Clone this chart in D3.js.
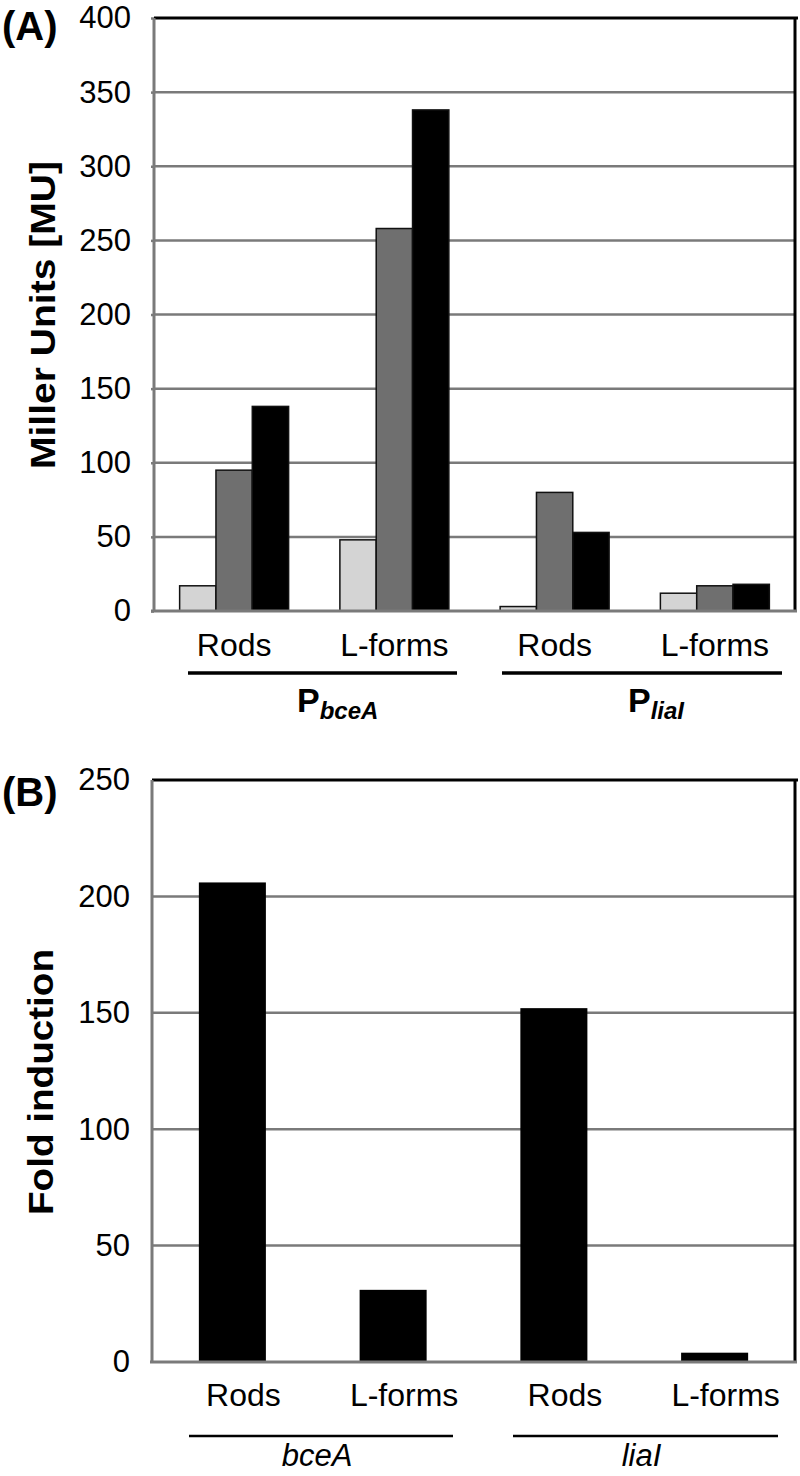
<!DOCTYPE html>
<html lang="en">
    <head>
        <meta charset="utf-8">
        <title>Miller units and fold induction</title>
        <script type="text/javascript" src="https://d3js.org/d3.v7.min.js"></script>
        <style>
            body { margin: 0; background: #fff; }
            text { font-family: "Liberation Sans", Arial, sans-serif; }
        </style>
    </head>
    <body>
        <script type="text/javascript">

        var w = 800;
        var h = 1476;

        // panel A: three conditions per category
        var categories = ["Rods", "L-forms", "Rods", "L-forms"];
        var seriesA = ["light", "mid", "dark"];
        var valuesLight = [17, 48, 3, 12];
        var valuesMid = [95, 258, 80, 17];
        var valuesDark = [138, 338, 53, 18];
        var ticksA = [0, 50, 100, 150, 200, 250, 300, 350, 400];

        // panel B: fold induction
        var foldValues = [206, 31, 152, 4];
        var ticksB = [0, 50, 100, 150, 200, 250];

        var fillA = {light: "#d4d4d4", mid: "#6f6f6f", dark: "#000000"};
        var gridColor = "#7a7a7a";

        var svg = d3.select("body")
            .append("svg")
            .attr("width", w)
            .attr("height", h);

        // ---------- panel A ----------
        var xA = d3.scaleBand()
            .domain(d3.range(categories.length))
            .range([154, 795])
            .paddingInner(0.32)
            .paddingOuter(0.16);

        var xSub = d3.scaleBand()
            .domain(seriesA)
            .range([0, xA.bandwidth()]);

        var yA = d3.scaleLinear()
            .domain([0, 400])
            .range([611, 18]);

        var gA = svg.append("g");

        gA.selectAll("line.grid")
           .data(ticksA.filter(function(d) { return d > 0 && d < 400; }))
           .enter()
           .append("line")
           .attr("class", "grid")
           .attr("x1", 154)
           .attr("x2", 795)
           .attr("y1", function(d) { return yA(d); })
           .attr("y2", function(d) { return yA(d); })
           .attr("stroke", gridColor)
           .attr("stroke-width", 2.5);

        // top and right frame
        gA.append("path")
           .attr("d", "M154," + yA(400) + "H798M795," + yA(400) + "V" + yA(0))
           .attr("fill", "none")
           .attr("stroke", "#000")
           .attr("stroke-width", 3);

        var rowsA = categories.map(function(c, i) {
            return {i: i, light: valuesLight[i], mid: valuesMid[i], dark: valuesDark[i]};
        });

        gA.selectAll("g.cat")
           .data(rowsA)
           .enter()
           .append("g")
           .attr("class", "cat")
           .attr("transform", function(d) { return "translate(" + xA(d.i) + ",0)"; })
           .selectAll("rect")
           .data(function(d) {
                return seriesA.map(function(s) { return {s: s, v: d[s]}; });
           })
           .enter()
           .append("rect")
           .attr("x", function(d) { return xSub(d.s); })
           .attr("width", xSub.bandwidth())
           .attr("y", function(d) { return yA(d.v); })
           .attr("height", function(d) { return yA(0) - yA(d.v); })
           .attr("fill", function(d) { return fillA[d.s]; })
           .attr("stroke", "#111")
           .attr("stroke-width", 1.5);

        var axA = gA.append("g")
           .attr("transform", "translate(154,0)")
           .call(d3.axisLeft(yA).tickValues(ticksA).tickSize(3).tickPadding(20));
        axA.select(".domain").attr("stroke", gridColor).attr("stroke-width", 3)
           .attr("d", "M0," + yA(400) + "V" + yA(0));
        axA.selectAll(".tick line").attr("stroke", gridColor).attr("stroke-width", 2.5);
        axA.selectAll(".tick text")
           .attr("font-size", "31px")
           .attr("font-family", "'Liberation Sans', Arial, sans-serif")
           .attr("fill", "#000");

        // baseline
        gA.append("line")
           .attr("x1", 151).attr("x2", 797)
           .attr("y1", yA(0)).attr("y2", yA(0))
           .attr("stroke", gridColor)
           .attr("stroke-width", 3);

        gA.selectAll("text.cat")
           .data(categories)
           .enter()
           .append("text")
           .attr("class", "cat")
           .attr("x", function(d, i) { return xA(i) + xA.bandwidth() / 2; })
           .attr("y", 656)
           .attr("text-anchor", "middle")
           .attr("font-size", "32px")
           .text(function(d) { return d; });

        gA.append("text")
           .attr("transform", "translate(55,315) rotate(-90)")
           .attr("text-anchor", "middle")
           .attr("font-size", "35px")
           .attr("font-weight", "bold")
           .attr("textLength", 308)
           .attr("lengthAdjust", "spacingAndGlyphs")
           .text("Miller Units [MU]");

        gA.append("text")
           .attr("x", 2).attr("y", 40)
           .attr("font-size", "40px")
           .attr("font-weight", "bold")
           .text("(A)");

        var groupsA = [
            {x1: 188, x2: 457, sub: "bceA", px: 297},
            {x1: 502, x2: 782, sub: "liaI", px: 628}
        ];

        gA.selectAll("line.group")
           .data(groupsA)
           .enter()
           .append("line")
           .attr("class", "group")
           .attr("x1", function(d) { return d.x1; })
           .attr("x2", function(d) { return d.x2; })
           .attr("y1", 673).attr("y2", 673)
           .attr("stroke", "#000")
           .attr("stroke-width", 3.5);

        var pLabels = gA.selectAll("text.group")
           .data(groupsA)
           .enter()
           .append("text")
           .attr("class", "group")
           .attr("x", function(d) { return d.px; })
           .attr("y", 712)
           .attr("font-weight", "bold")
           .attr("font-size", "34px");
        pLabels.append("tspan").text("P");
        pLabels.append("tspan")
           .attr("dy", 7)
           .attr("font-size", "24px")
           .attr("font-style", "italic")
           .text(function(d) { return d.sub; });

        // ---------- panel B ----------
        var xB = d3.scaleBand()
            .domain(d3.range(categories.length))
            .range([152, 795])
            .paddingInner(0.583)
            .paddingOuter(0.2915);

        var yB = d3.scaleLinear()
            .domain([0, 250])
            .range([1362, 780]);

        var gB = svg.append("g");

        gB.selectAll("line.grid")
           .data(ticksB.filter(function(d) { return d > 0 && d < 250; }))
           .enter()
           .append("line")
           .attr("class", "grid")
           .attr("x1", 152)
           .attr("x2", 795)
           .attr("y1", function(d) { return yB(d); })
           .attr("y2", function(d) { return yB(d); })
           .attr("stroke", gridColor)
           .attr("stroke-width", 2.5);

        gB.append("path")
           .attr("d", "M152," + yB(250) + "H798M795," + yB(250) + "V" + yB(0))
           .attr("fill", "none")
           .attr("stroke", "#000")
           .attr("stroke-width", 3);

        gB.selectAll("rect")
           .data(foldValues)
           .enter()
           .append("rect")
           .attr("x", function(d, i) { return xB(i); })
           .attr("width", xB.bandwidth())
           .attr("y", function(d) { return yB(d); })
           .attr("height", function(d) { return yB(0) - yB(d); })
           .attr("fill", "#000");

        var axB = gB.append("g")
           .attr("transform", "translate(152,0)")
           .call(d3.axisLeft(yB).tickValues(ticksB).tickSize(0).tickPadding(22));
        axB.select(".domain").attr("stroke", gridColor).attr("stroke-width", 3)
           .attr("d", "M0," + yB(250) + "V" + yB(0));
        axB.selectAll(".tick text")
           .attr("font-size", "31px")
           .attr("font-family", "'Liberation Sans', Arial, sans-serif")
           .attr("fill", "#000");

        gB.append("line")
           .attr("x1", 150).attr("x2", 797)
           .attr("y1", yB(0)).attr("y2", yB(0))
           .attr("stroke", gridColor)
           .attr("stroke-width", 3);

        gB.selectAll("text.cat")
           .data(categories)
           .enter()
           .append("text")
           .attr("class", "cat")
           .attr("x", function(d, i) { return xB(i) + xB.bandwidth() / 2 + 11; })
           .attr("y", 1406)
           .attr("text-anchor", "middle")
           .attr("font-size", "32px")
           .text(function(d) { return d; });

        gB.append("text")
           .attr("transform", "translate(53,1082) rotate(-90)")
           .attr("text-anchor", "middle")
           .attr("font-size", "35px")
           .attr("font-weight", "bold")
           .attr("textLength", 266)
           .attr("lengthAdjust", "spacingAndGlyphs")
           .text("Fold induction");

        gB.append("text")
           .attr("x", 2).attr("y", 806)
           .attr("font-size", "40px")
           .attr("font-weight", "bold")
           .text("(B)");

        var groupsB = [
            {x1: 189, x2: 453, label: "bceA"},
            {x1: 513, x2: 778, label: "liaI"}
        ];

        gB.selectAll("line.group")
           .data(groupsB)
           .enter()
           .append("line")
           .attr("class", "group")
           .attr("x1", function(d) { return d.x1; })
           .attr("x2", function(d) { return d.x2; })
           .attr("y1", 1436).attr("y2", 1436)
           .attr("stroke", "#000")
           .attr("stroke-width", 2.5);

        gB.selectAll("text.group")
           .data(groupsB)
           .enter()
           .append("text")
           .attr("class", "group")
           .attr("x", function(d) { return (d.x1 + d.x2) / 2 - 4; })
           .attr("y", 1466)
           .attr("text-anchor", "middle")
           .attr("font-size", "31px")
           .attr("font-style", "italic")
           .text(function(d) { return d.label; });
        </script>
    </body>
</html>
